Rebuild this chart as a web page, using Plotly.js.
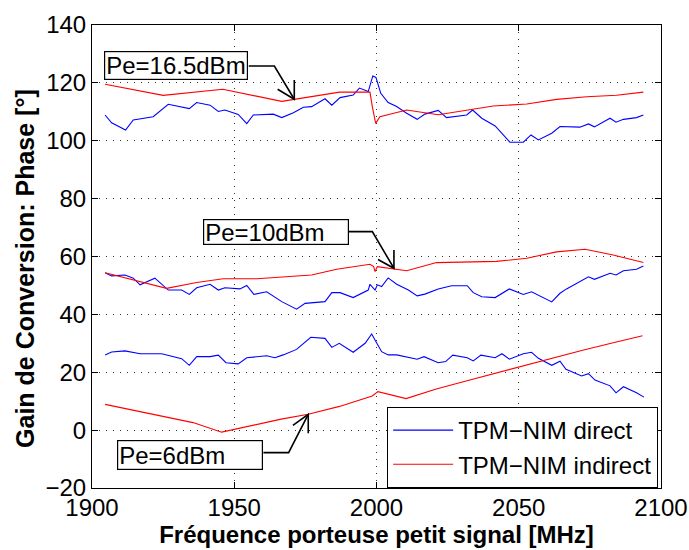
<!DOCTYPE html>
<html>
<head>
<meta charset="utf-8">
<script src="https://cdn.plot.ly/plotly-3.0.1.min.js"></script>
<style>html,body{margin:0;padding:0;background:#fff;}#chart{width:689px;height:550px;}</style>
</head>
<body>
<div id="chart"></div>
<script>
// ---- Data ----
const seriesNames = ["TPM\u2212NIM direct", "TPM\u2212NIM indirect"];
const xTicks = [1900, 1950, 2000, 2050, 2100];
const yTicks = [-20, 0, 20, 40, 60, 80, 100, 120, 140];

// Pe = 16.5 dBm
const direct16x = [1904.6,1906.9,1911.8,1914.5,1921.5,1923.9,1926.8,1934.2,1936.8,1941.5,1944.4,1946.7,1951.4,1954.4,1956.7,1963.7,1966.7,1970.8,1974.3,1977.2,1981.9,1984.3,1987.2,1991.8,1994.0,1997.1,1998.7,1999.8,2001.5,2004.1,2007.1,2010.6,2014.3,2017.0,2021.7,2024.6,2031.7,2033.8,2037.0,2041.7,2044.4,2046.9,2051.6,2054.3,2056.9,2061.6,2064.5,2071.5,2074.5,2076.6,2082.1,2084.2,2086.8,2091.4,2093.8];
const direct16y = [108.9,106.2,103.7,107.2,108.3,110.1,112.6,111.1,113.2,112.3,110.1,110.6,109.1,105.9,108.9,109.2,108.0,109.7,111.6,111.8,114.5,112.3,114.9,115.8,118.2,117.0,122.4,121.9,116.4,113.2,111.8,109.5,107.4,109.2,110.5,108.0,108.9,110.6,107.8,105.1,102.0,99.5,99.5,102.0,100.3,102.6,104.9,104.7,105.8,104.8,107.8,106.4,107.4,108.0,108.9];
const indirect16x = [1904.6,1925.0,1946.0,1966.7,1987.0,1997.7,1998.5,1999.7,2001.2,2010.6,2021.7,2041.0,2052.8,2063.3,2073.9,2084.4,2093.8];
const indirect16y = [119.5,115.7,117.8,113.6,116.8,116.8,112.0,106.0,108.3,110.6,109.0,112.0,112.7,114.3,115.2,115.7,116.8];

// Pe = 10 dBm
const direct10x = [1904.6,1906.9,1911.6,1914.5,1916.9,1922.1,1926.8,1931.5,1934.2,1936.8,1941.5,1944.4,1946.7,1952.0,1954.4,1956.9,1961.4,1966.7,1971.9,1974.9,1981.9,1984.3,1987.2,1991.8,1997.1,1997.7,1999.5,2000.3,2001.8,2004.1,2007.1,2011.2,2014.3,2017.0,2021.7,2026.4,2031.9,2034.0,2037.0,2041.7,2046.7,2051.6,2054.5,2061.6,2064.5,2066.8,2074.5,2076.6,2082.1,2084.2,2086.8,2091.4,2093.8];
const direct10y = [54.4,53.3,53.6,52.5,50.2,52.5,48.4,48.4,46.9,49.2,50.4,48.4,49.2,48.8,50.0,46.9,47.8,44.4,41.8,43.8,44.4,47.5,47.5,45.8,48.4,50.4,48.4,50.2,49.6,52.6,50.4,48.4,46.4,47.0,48.8,49.9,49.9,47.5,46.1,45.8,48.8,46.9,47.8,44.3,47.3,48.8,53.0,52.1,54.2,53.6,55.1,55.6,56.7];
const indirect10x = [1904.6,1926.2,1936.8,1946.1,1957.9,1977.2,1986.0,1997.7,1999.0,1999.5,2000.3,2004.7,2010.6,2021.1,2042.2,2052.8,2063.3,2073.3,2083.2,2093.8];
const indirect10y = [54.4,49.0,51.0,52.3,52.3,53.6,55.6,57.3,56.5,54.8,56.5,55.9,55.1,57.9,58.3,59.4,61.6,62.5,60.5,57.9];

// Pe = 6 dBm
const direct6x = [1904.6,1906.9,1911.6,1916.9,1924.5,1931.5,1934.2,1936.8,1941.5,1944.4,1947.1,1951.4,1954.4,1961.4,1964.3,1967.2,1971.9,1976.9,1981.9,1984.3,1986.9,1991.8,1996.0,1998.3,2001.8,2004.1,2007.1,2014.3,2016.7,2021.7,2024.3,2026.8,2031.9,2034.0,2036.7,2041.7,2044.1,2046.7,2051.6,2054.5,2056.9,2061.6,2064.5,2066.6,2072.1,2074.5,2076.8,2082.1,2084.2,2086.8,2091.4,2094.0];
const direct6y = [26.0,27.0,27.4,26.4,26.4,24.7,22.4,25.4,25.4,25.9,23.3,22.9,25.0,25.7,25.0,26.0,27.9,32.1,31.7,28.6,30.0,26.9,30.0,33.2,27.1,26.0,26.0,24.5,25.4,23.3,23.7,25.9,25.0,23.9,25.9,25.0,26.4,24.5,26.4,26.9,24.8,22.4,23.8,21.0,18.7,19.5,17.3,15.3,12.9,15.0,12.9,11.4];
const indirect6x = [1904.6,1925.0,1935.5,1945.6,1957.0,1966.5,1976.0,1987.0,1998.5,2000.5,2010.4,2021.0,2031.5,2041.8,2052.5,2062.8,2072.8,2083.2,2093.5];
const indirect6y = [8.9,4.8,2.6,-0.7,1.9,3.8,5.5,8.2,11.8,13.3,10.9,14.2,17.0,19.7,22.5,25.2,27.7,30.2,32.6];

const labels = ["Pe=16.5dBm", "Pe=10dBm", "Pe=6dBm"];
const xTitle = "Fréquence porteuse petit signal [MHz]";
const yTitle = "Gain de Conversion: Phase [°]";

// ---- Styling / layout ----
const FONT = "Liberation Sans, Arial, Helvetica, sans-serif";
const BLUE = "#0000ff", RED = "#ff0000";

function tr(x, y, color, name, show) {
  return {x: x, y: y, type: "scatter", mode: "lines", name: name,
          legendgroup: name, showlegend: show,
          line: {color: color, width: 1.1}};
}
const traces = [
  tr(direct16x, direct16y, BLUE, seriesNames[0], true),
  tr(direct10x, direct10y, BLUE, seriesNames[0], false),
  tr(direct6x, direct6y, BLUE, seriesNames[0], false),
  tr(indirect16x, indirect16y, RED, seriesNames[1], true),
  tr(indirect10x, indirect10y, RED, seriesNames[1], false),
  tr(indirect6x, indirect6y, RED, seriesNames[1], false)
];

// text-arrow callouts: box centre, connector (box edge -> elbow -> tip), open head
const callouts = [
  {text: labels[0], cx: 1929.5, cy: 126.1, h: 25, w: 140,
   pts: [[1955.1,125.83],[1964.1,125.83],[1971.1,114.33]], head: [[1971.1,121.0],[1965.25,117.78]]},
  {text: labels[1], cx: 1964.6, cy: 68.3, h: 22, w: 142,
   pts: [[1990.12,68.58],[1998.53,68.58],[2006.13,55.93]], head: [[2006.13,62.25],[2000.53,58.97]]},
  {text: labels[2], cx: 1934.43, cy: -8.48, h: 26, w: 142,
   pts: [[1960.25,-7.79],[1969.11,-7.79],[1976.01,5.48]], head: [[1976.01,-1.09],[1970.61,1.64]]}
];

const shapes = [];
const annotations = [];
callouts.forEach(c => {
  const p = c.pts;
  shapes.push({type: "path", xref: "x", yref: "y",
    path: `M${p[0][0]},${p[0][1]} L${p[1][0]},${p[1][1]} L${p[2][0]},${p[2][1]}`,
    line: {color: "#000", width: 1.6}});
  const t = p[2];
  shapes.push({type: "path", xref: "x", yref: "y",
    path: `M${c.head[0][0]},${c.head[0][1]} L${t[0]},${t[1]} L${c.head[1][0]},${c.head[1][1]}`,
    line: {color: "#000", width: 1.6}});
  annotations.push({x: c.cx, y: c.cy, xref: "x", yref: "y", text: c.text, showarrow: false,
    xanchor: "center", yanchor: "middle", align: "left", width: c.w, height: c.h,
    bgcolor: "#fff", bordercolor: "#000", borderwidth: 1.2, borderpad: 1,
    font: {family: FONT, size: 24, color: "#000"}});
});

// y-axis title placed as rotated text (to match reference position)
annotations.push({xref: "paper", yref: "paper", x: -0.118, y: 0.475,
  xanchor: "center", yanchor: "middle", textangle: -90, showarrow: false,
  text: yTitle, font: {family: FONT, size: 25, weight: "bold", color: "#000"}});

const axisCommon = {
  showline: true, linecolor: "#000", linewidth: 1, mirror: "ticks",
  ticks: "inside", ticklen: 6, tickcolor: "#000", tickwidth: 1,
  showgrid: true, gridcolor: "#333", gridwidth: 1, griddash: "1px,6px",
  zeroline: false, tickfont: {family: FONT, size: 24, color: "#000"}
};

const layout = {
  width: 689, height: 550,
  margin: {l: 92, r: 28, t: 25, b: 62},
  paper_bgcolor: "#fff", plot_bgcolor: "#fff",
  font: {family: FONT, color: "#000"},
  xaxis: Object.assign({}, axisCommon, {
    range: [1900, 2100], tickvals: xTicks, ticktext: xTicks.map(String),
    ticklabelstandoff: -2,
    title: {text: xTitle, standoff: 4,
            font: {family: FONT, size: 24, weight: "bold", color: "#000"}}
  }),
  yaxis: Object.assign({}, axisCommon, {
    range: [-20, 140], tickvals: yTicks, ticktext: yTicks.map(v => v < 0 ? "\u2212" + Math.abs(v) : String(v))
  }),
  showlegend: true,
  legend: {x: 0.995, xanchor: "right", y: 0, yanchor: "bottom",
           bgcolor: "#fff", bordercolor: "#000", borderwidth: 1,
           tracegroupgap: 0, itemwidth: 60,
           font: {family: FONT, size: 24, color: "#000"}},
  shapes: shapes,
  annotations: annotations
};

Plotly.newPlot("chart", traces, layout, {staticPlot: true, displayModeBar: false});
</script>
</body>
</html>
